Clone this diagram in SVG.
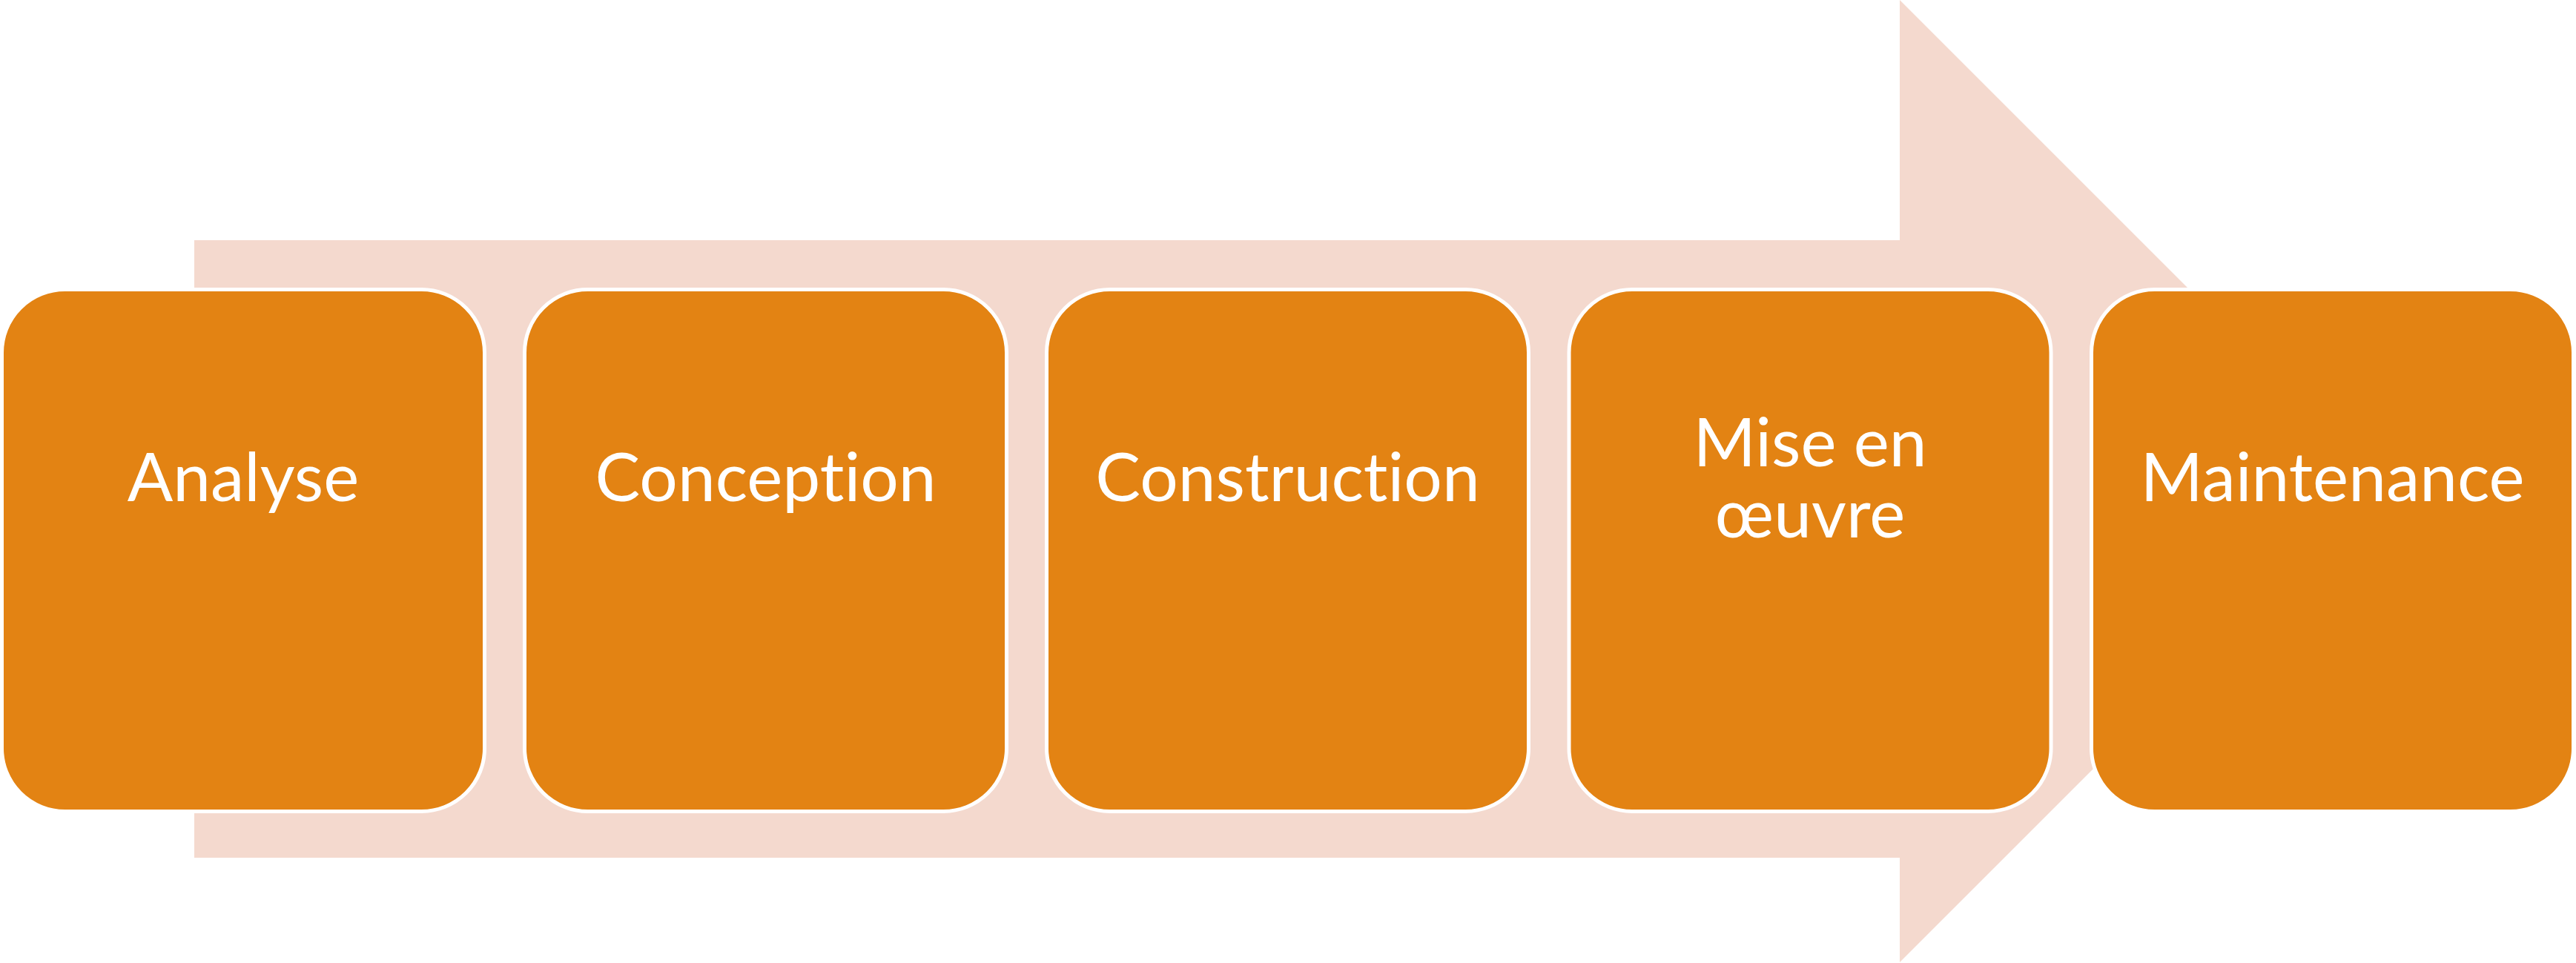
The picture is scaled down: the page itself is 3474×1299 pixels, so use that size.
<svg xmlns="http://www.w3.org/2000/svg" width="3474" height="1299" viewBox="0 0 3474 1299">
  <style>
    .step { fill: #E38313; stroke: #FFFFFF; stroke-width: 5; }
    .label { font-family: Lato, "Open Sans", "Liberation Sans", sans-serif; font-size: 91px; fill: #FFFFFF; text-anchor: middle; font-variant-ligatures: none; font-feature-settings: "liga" 0, "dlig" 0; }
  </style>
  <!-- background process arrow -->
  <g id="connectors">
    <polygon id="process-arrow" points="262,324 2562,324 2562,0 3211,649 2562,1298 2562,1157 262,1157" fill="#F4D9CE"/>
  </g>
  <g id="step-analyse">
    <rect class="step" x="2.5" y="390.5" width="651" height="704" rx="85" ry="85"/>
    <text class="label" x="328" y="676">Analyse</text>
  </g>
  <g id="step-conception">
    <rect class="step" x="707.5" y="390.5" width="650" height="704" rx="85" ry="85"/>
    <text class="label" x="1032.5" y="676">Conception</text>
  </g>
  <g id="step-construction">
    <rect class="step" x="1411.5" y="390.5" width="650" height="704" rx="85" ry="85"/>
    <text class="label" x="1736.5" y="676">Construction</text>
  </g>
  <g id="step-mise-en-oeuvre">
    <rect class="step" x="2116" y="390.5" width="650" height="704" rx="85" ry="85"/>
    <text class="label" x="2441" y="629">Mise en</text>
    <text class="label" x="2441" y="725">œuvre</text>
  </g>
  <g id="step-maintenance">
    <rect class="step" x="2820.5" y="390.5" width="650" height="704" rx="85" ry="85"/>
    <text class="label" x="3145.5" y="676">Maintenance</text>
  </g>
</svg>
